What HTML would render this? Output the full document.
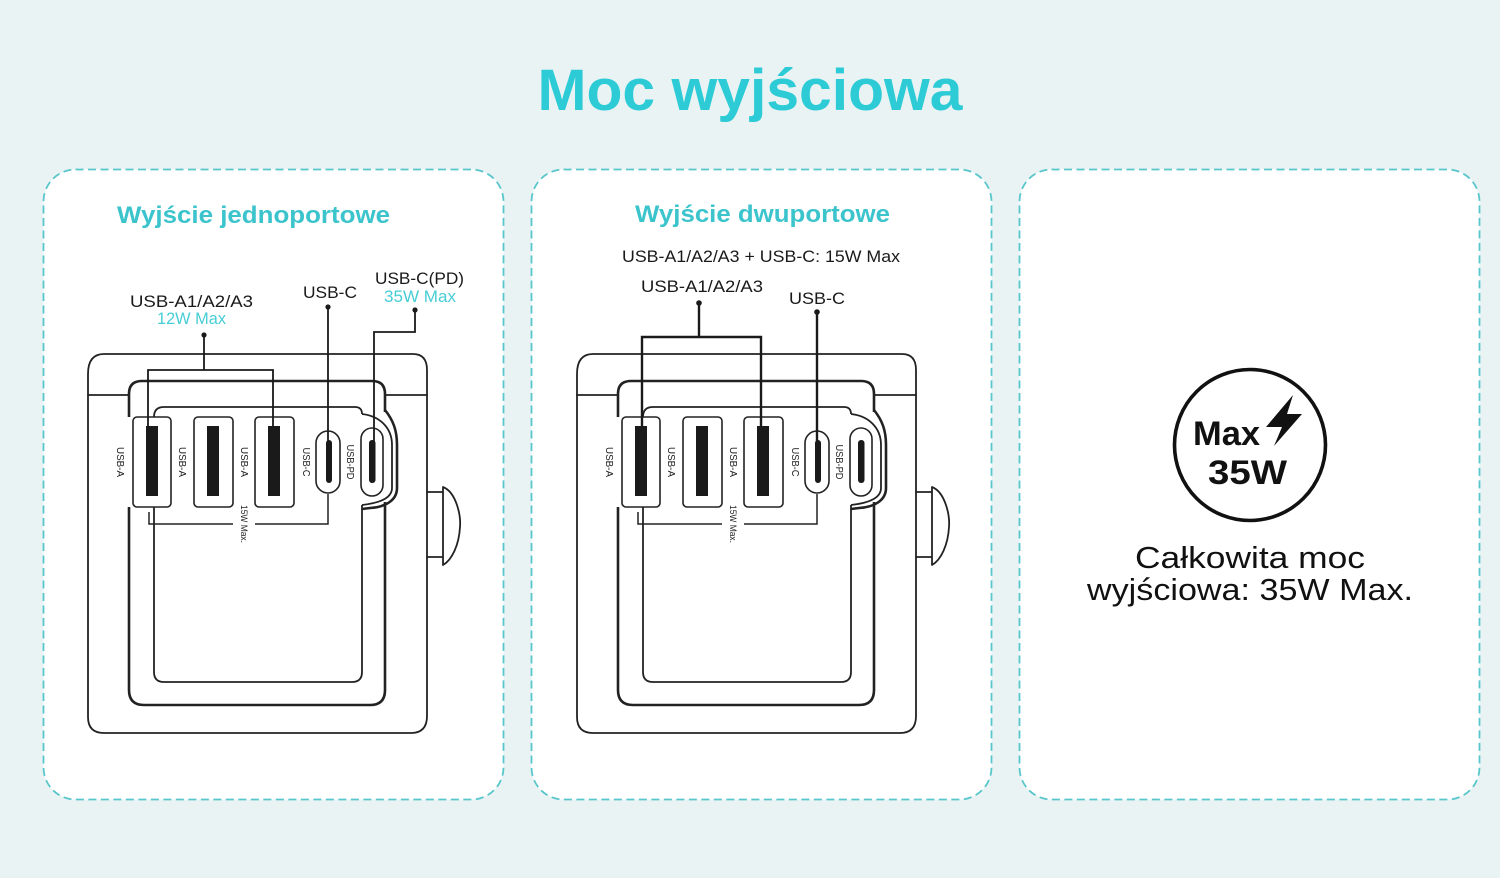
<!DOCTYPE html>
<html><head><meta charset="utf-8">
<style>
html,body{margin:0;padding:0;background:#eaf3f4;}
svg{display:block;}
text{font-family:"Liberation Sans",sans-serif;}
</style></head>
<body>
<svg width="1500" height="878" viewBox="0 0 1500 878" xmlns="http://www.w3.org/2000/svg">
<rect x="0" y="0" width="1500" height="878" fill="#eaf3f4"/>
<!-- title -->
<text x="750" y="110" text-anchor="middle" font-size="58" font-weight="bold" fill="#2ccbd6" textLength="425" lengthAdjust="spacingAndGlyphs">Moc wyjściowa</text>

<!-- cards -->
<g fill="#fff" stroke="#58c6cb" stroke-width="1.8" stroke-dasharray="8 4.5">
<rect x="43.5" y="169.5" width="460" height="630" rx="32"/>
<rect x="531.5" y="169.5" width="460" height="630" rx="32"/>
<rect x="1019.5" y="169.5" width="460" height="630" rx="32"/>
</g>

<text x="253.5" y="223" text-anchor="middle" font-size="24" font-weight="bold" fill="#3cc4cd" textLength="273" lengthAdjust="spacingAndGlyphs">Wyjście jednoportowe</text>
<text x="762.5" y="222" text-anchor="middle" font-size="24" font-weight="bold" fill="#3cc4cd" textLength="255" lengthAdjust="spacingAndGlyphs">Wyjście dwuportowe</text>

<defs>
<g id="dev">
 <g fill="none" stroke="#222" stroke-width="1.8" stroke-linejoin="round" stroke-linecap="round">
  <path d="M104,354 H413 Q427,354 427,370 V716 Q427,733 411,733 H104 Q88,733 88,717 V374 Q88,354 104,354 Z"/>
  <path d="M88,395 H129 M386,395 H427"/>
  <!-- knob -->
  <path d="M427,492 H443 M427,557 H443 M443,487 V565 M443,487 C456,492 461,515 460,527 C459,545 452,560 443,565"/>
 </g>
 <g fill="none" stroke="#222" stroke-width="2.6" stroke-linejoin="round">
  <path d="M129,417 V394 Q129,381 142,381 H372 Q385,381 385,394 V412"/>
  <path d="M385,410 C393,420 397,430 397,445 V488 C397,500 386,507 370,508 L362,509"/>
  <path d="M129,507 V690 Q129,705 144,705 H370 Q385,705 385,690 V502"/>
 </g>
 <g fill="none" stroke="#222" stroke-width="1.8" stroke-linejoin="round">
  <path d="M154,672 V417 Q154,407 164,407 H355 Q362,407 362,414"/>
  <path d="M362,414 C380,416 392,428 392,445 V488 C392,498 380,503 362,505"/>
  <path d="M362,505 V672 Q362,682 352,682 H164 Q154,682 154,672"/>
 </g>
 <g fill="#fff" stroke="#222" stroke-width="1.6">
  <rect x="133" y="417" width="38" height="90" rx="4"/>
  <rect x="194" y="417" width="39" height="90" rx="4"/>
  <rect x="255" y="417" width="39" height="90" rx="4"/>
  <rect x="316" y="431" width="24" height="62" rx="12"/>
  <rect x="361" y="428" width="22" height="68" rx="11"/>
 </g>
 <g fill="#1a1a1a">
  <rect x="146" y="426" width="12" height="70"/>
  <rect x="207" y="426" width="12" height="70"/>
  <rect x="268" y="426" width="12" height="70"/>
  <rect x="326" y="440" width="6" height="43" rx="3"/>
  <rect x="369" y="440" width="6.5" height="43" rx="3"/>
 </g>
 <path d="M149,512 V524 H233 M255,524 H328 V494" fill="none" stroke="#222" stroke-width="1.5"/>
</g>
</defs>

<!-- left device -->
<use href="#dev" x="0" y="0"/>
<g fill="#222" font-size="10">
 <text transform="translate(117,462) rotate(90)" text-anchor="middle" textLength="30" lengthAdjust="spacingAndGlyphs">USB-A</text>
 <text transform="translate(179,462) rotate(90)" text-anchor="middle" textLength="30" lengthAdjust="spacingAndGlyphs">USB-A</text>
 <text transform="translate(241,462) rotate(90)" text-anchor="middle" textLength="30" lengthAdjust="spacingAndGlyphs">USB-A</text>
 <text transform="translate(303,462) rotate(90)" text-anchor="middle" textLength="29" lengthAdjust="spacingAndGlyphs">USB-C</text>
 <text transform="translate(347,462) rotate(90)" text-anchor="middle" textLength="35" lengthAdjust="spacingAndGlyphs">USB-PD</text>
 <text transform="translate(241,524) rotate(90)" text-anchor="middle" font-size="9" textLength="38" lengthAdjust="spacingAndGlyphs">15W Max.</text>
</g>
<g fill="none" stroke="#1a1a1a" stroke-width="1.8">
 <path d="M204,335 V370 M148,440 V370 H273 V440"/>
 <path d="M328,307 V445"/>
 <path d="M415,310 V332 H374 V445"/>
</g>
<g fill="#1a1a1a">
 <circle cx="204" cy="335" r="2.6"/>
 <circle cx="328" cy="307" r="2.6"/>
 <circle cx="415" cy="310" r="2.6"/>
</g>
<g font-size="17" fill="#1a1a1a">
 <text x="130" y="307" textLength="123" lengthAdjust="spacingAndGlyphs">USB-A1/A2/A3</text>
 <text x="303" y="298" textLength="54" lengthAdjust="spacingAndGlyphs">USB-C</text>
 <text x="375" y="284" textLength="89" lengthAdjust="spacingAndGlyphs">USB-C(PD)</text>
</g>
<g font-size="17" fill="#47cdd5">
 <text x="157" y="324" textLength="69" lengthAdjust="spacingAndGlyphs">12W Max</text>
 <text x="384" y="302" textLength="72" lengthAdjust="spacingAndGlyphs">35W Max</text>
</g>

<!-- middle device -->
<use href="#dev" x="489" y="0"/>
<g fill="#222" font-size="10">
 <text transform="translate(606,462) rotate(90)" text-anchor="middle" textLength="30" lengthAdjust="spacingAndGlyphs">USB-A</text>
 <text transform="translate(668,462) rotate(90)" text-anchor="middle" textLength="30" lengthAdjust="spacingAndGlyphs">USB-A</text>
 <text transform="translate(730,462) rotate(90)" text-anchor="middle" textLength="30" lengthAdjust="spacingAndGlyphs">USB-A</text>
 <text transform="translate(792,462) rotate(90)" text-anchor="middle" textLength="29" lengthAdjust="spacingAndGlyphs">USB-C</text>
 <text transform="translate(836,462) rotate(90)" text-anchor="middle" textLength="35" lengthAdjust="spacingAndGlyphs">USB-PD</text>
 <text transform="translate(730,524) rotate(90)" text-anchor="middle" font-size="9" textLength="38" lengthAdjust="spacingAndGlyphs">15W Max.</text>
</g>
<g fill="none" stroke="#1a1a1a" stroke-width="2.4">
 <path d="M699,303 V337 M642,440 V337 H761 V440"/>
 <path d="M817,312 V445"/>
</g>
<g fill="#1a1a1a">
 <circle cx="699" cy="303" r="2.8"/>
 <circle cx="817" cy="312" r="2.8"/>
</g>
<g font-size="17" fill="#1a1a1a">
 <text x="622" y="262" textLength="278" lengthAdjust="spacingAndGlyphs">USB-A1/A2/A3 + USB-C: 15W Max</text>
 <text x="641" y="292" textLength="122" lengthAdjust="spacingAndGlyphs">USB-A1/A2/A3</text>
 <text x="789" y="304" textLength="56" lengthAdjust="spacingAndGlyphs">USB-C</text>
</g>

<!-- right card -->
<circle cx="1250" cy="445" r="75.5" fill="none" stroke="#111" stroke-width="3.6"/>
<text x="1193" y="445" font-size="34" font-weight="bold" fill="#111" textLength="67" lengthAdjust="spacingAndGlyphs">Max</text>
<text x="1208" y="484" font-size="34" font-weight="bold" fill="#111" textLength="79" lengthAdjust="spacingAndGlyphs">35W</text>
<path d="M1293,395 L1266,427 L1282,427 L1274,446 L1302,414 L1287,414 Z" fill="#111"/>
<text x="1250" y="568" text-anchor="middle" font-size="31" fill="#111" textLength="230" lengthAdjust="spacingAndGlyphs">Całkowita moc</text>
<text x="1250" y="600" text-anchor="middle" font-size="31" fill="#111" textLength="326" lengthAdjust="spacingAndGlyphs">wyjściowa: 35W Max.</text>
</svg>
</body></html>
